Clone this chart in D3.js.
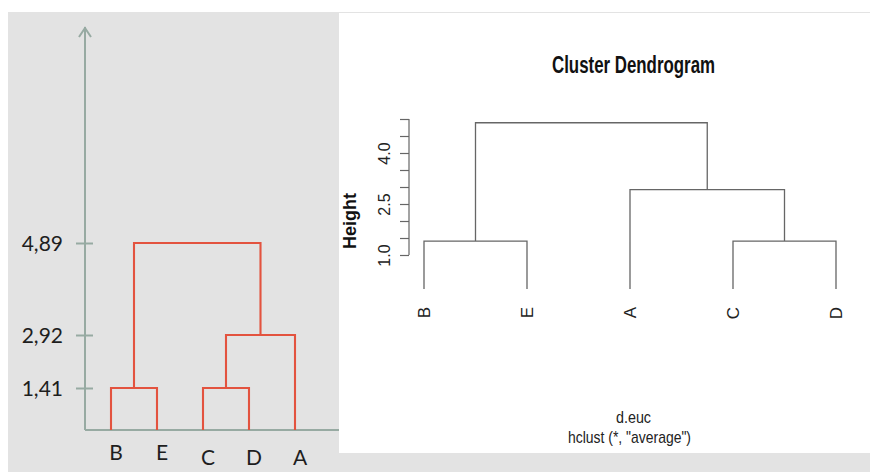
<!DOCTYPE html>
<html>
<head>
<meta charset="utf-8">
<script src="https://cdn.jsdelivr.net/npm/d3@7"></script>
<style>
  html, body { margin: 0; padding: 0; background: #ffffff; }
  svg { display: block; }
</style>
</head>
<body>
<svg id="chart" width="870" height="472"></svg>
<script>
// Leaf order for each dendrogram
const schematicLeaves = ["B", "E", "C", "D", "A"];
const rLeaves = ["B", "E", "A", "C", "D"];

// Agglomeration steps: joined clusters and merge height (average linkage)
const mergeLeft = ["B", "C", "CD", "BE"];
const mergeRight = ["E", "D", "A", "CDA"];
const mergeHeight = [1.41, 1.41, 2.92, 4.89];

// Axis ticks
const schematicTicks = [1.41, 2.92, 4.89];
const rTicks = [1.0, 1.5, 2.0, 2.5, 3.0, 3.5, 4.0, 4.5, 5.0];
const rTickLabels = [1.0, 2.5, 4.0];

const svg = d3.select("#chart");

// Backgrounds: grey slide with a white R graphics panel on the right
svg.append("rect").attr("x", 8).attr("y", 12).attr("width", 862).attr("height", 460).attr("fill", "#e3e3e3");

// Build node positions from leaves and merge steps
function layout(leaves, x) {
  const pos = {};
  leaves.forEach(l => { pos[l] = { x: x(l), h: 0 }; });
  const links = [];
  mergeLeft.forEach((a, i) => {
    const b = mergeRight[i], h = mergeHeight[i];
    const pa = pos[a], pb = pos[b];
    links.push({ x1: pa.x, x2: pb.x, ha: pa.h, hb: pb.h, h });
    pos[a + b] = { x: (pa.x + pb.x) / 2, h };
  });
  return links;
}

function drawTree(g, links, x, y, color, width) {
  const path = d3.path();
  links.forEach(l => {
    path.moveTo(l.x1, y(l.ha));
    path.lineTo(l.x1, y(l.h));
    path.lineTo(l.x2, y(l.h));
    path.lineTo(l.x2, y(l.hb));
  });
  g.append("path").attr("d", path.toString())
    .attr("fill", "none").attr("stroke", color).attr("stroke-width", width)
    .attr("stroke-linejoin", "miter");
}

// ---------- Left: schematic dendrogram ----------
const axisColor = "#97aaa2";
const xS = d3.scalePoint().domain(schematicLeaves).range([111, 295]);
// hand-drawn vertical scale, pinned at the labelled heights
const yS = d3.scaleLinear().domain([0, 1.41, 2.92, 4.89]).range([430, 388, 335, 243]);
const commaFmt = d3.formatLocale({ decimal: ",", thousands: ".", grouping: [3], currency: ["", ""] }).format(".2f");

const left = svg.append("g");
const axisX0 = 85;

// axis arrow and baseline
left.append("line").attr("x1", axisX0).attr("x2", axisX0).attr("y1", yS(0)).attr("y2", 27)
  .attr("stroke", axisColor).attr("stroke-width", 2);
left.append("path").attr("d", `M${axisX0 - 6},37 L${axisX0},28 L${axisX0 + 6},37`)
  .attr("fill", "none").attr("stroke", axisColor).attr("stroke-width", 2);
left.append("line").attr("x1", axisX0).attr("x2", 345).attr("y1", yS(0)).attr("y2", yS(0))
  .attr("stroke", axisColor).attr("stroke-width", 2);

const yAxisS = left.append("g").attr("transform", `translate(${axisX0},0)`)
  .call(d3.axisLeft(yS).tickValues(schematicTicks).tickFormat(commaFmt).tickSize(9).tickPadding(13));
yAxisS.select(".domain").remove();
yAxisS.selectAll(".tick line").attr("x1", 8).attr("stroke", axisColor).attr("stroke-width", 2);
yAxisS.selectAll(".tick text")
  .attr("font-family", "Lato, 'Noto Sans', sans-serif").attr("font-size", 21)
  .attr("fill", "#1e1e1e").attr("dy", "0.36em");

drawTree(left, layout(schematicLeaves, xS), xS, yS, "#e3533f", 2.1);

left.selectAll(".leaf").data(schematicLeaves).join("text")
  .attr("x", d => xS(d) + 5)
  .attr("y", (d, i) => i < 2 ? 460 : 465)
  .attr("text-anchor", "middle")
  .attr("font-family", "Lato, 'Noto Sans', sans-serif").attr("font-size", 21)
  .attr("fill", "#1e1e1e")
  .text(d => d);

// ---------- Right: R hclust plot ----------
svg.append("rect").attr("x", 339).attr("y", 13).attr("width", 531).attr("height", 440).attr("fill", "#ffffff");

const right = svg.append("g");
const rFont = "'Liberation Sans', Arial, Helvetica, sans-serif";
const lineGrey = "#666666";
const xR = d3.scalePoint().domain(rLeaves).range([424, 836]);
const yR = d3.scaleLinear().domain([0, 5]).range([289, 119]);

function fitText(sel, len) {
  sel.attr("textLength", len).attr("lengthAdjust", "spacingAndGlyphs");
}

right.append("text").attr("x", 633.5).attr("y", 73).attr("text-anchor", "middle")
  .attr("font-family", rFont).attr("font-weight", "bold").attr("font-size", 23).attr("fill", "#111")
  .text("Cluster Dendrogram").call(fitText, 163);

drawTree(right, layout(rLeaves, xR), xR, yR, lineGrey, 1.3);

const yAxisR = right.append("g").attr("transform", "translate(409,0)")
  .call(d3.axisLeft(yR).tickValues(rTicks).tickSize(9)
    .tickFormat(d => rTickLabels.includes(d) ? d.toFixed(1) : ""));
yAxisR.select(".domain").attr("d", `M0,${yR(rTicks[0])}V${yR(rTicks[rTicks.length - 1])}`)
  .attr("stroke", lineGrey).attr("stroke-width", 1.2);
yAxisR.selectAll(".tick line").attr("stroke", lineGrey).attr("stroke-width", 1.2);
yAxisR.selectAll(".tick text")
  .attr("x", null).attr("dy", null)
  .attr("transform", "translate(-19,0) rotate(-90)")
  .attr("text-anchor", "middle")
  .attr("font-family", rFont).attr("font-size", 16).attr("fill", "#222");

right.append("text")
  .attr("transform", "translate(356,221) rotate(-90)")
  .attr("text-anchor", "middle")
  .attr("font-family", rFont).attr("font-weight", "bold").attr("font-size", 18).attr("fill", "#111")
  .text("Height");

right.selectAll(".rleaf").data(rLeaves).join("text")
  .attr("transform", d => `translate(${xR(d) + 6},307) rotate(-90)`)
  .attr("text-anchor", "end")
  .attr("font-family", rFont).attr("font-size", 17).attr("fill", "#222")
  .text(d => d);

right.append("text").attr("x", 633.5).attr("y", 423).attr("text-anchor", "middle")
  .attr("font-family", rFont).attr("font-size", 17).attr("fill", "#222")
  .text("d.euc").call(fitText, 35);
right.append("text").attr("x", 629.5).attr("y", 443).attr("text-anchor", "middle")
  .attr("font-family", rFont).attr("font-size", 17).attr("fill", "#222")
  .text('hclust (*, "average")').call(fitText, 123);
</script>
</body>
</html>
